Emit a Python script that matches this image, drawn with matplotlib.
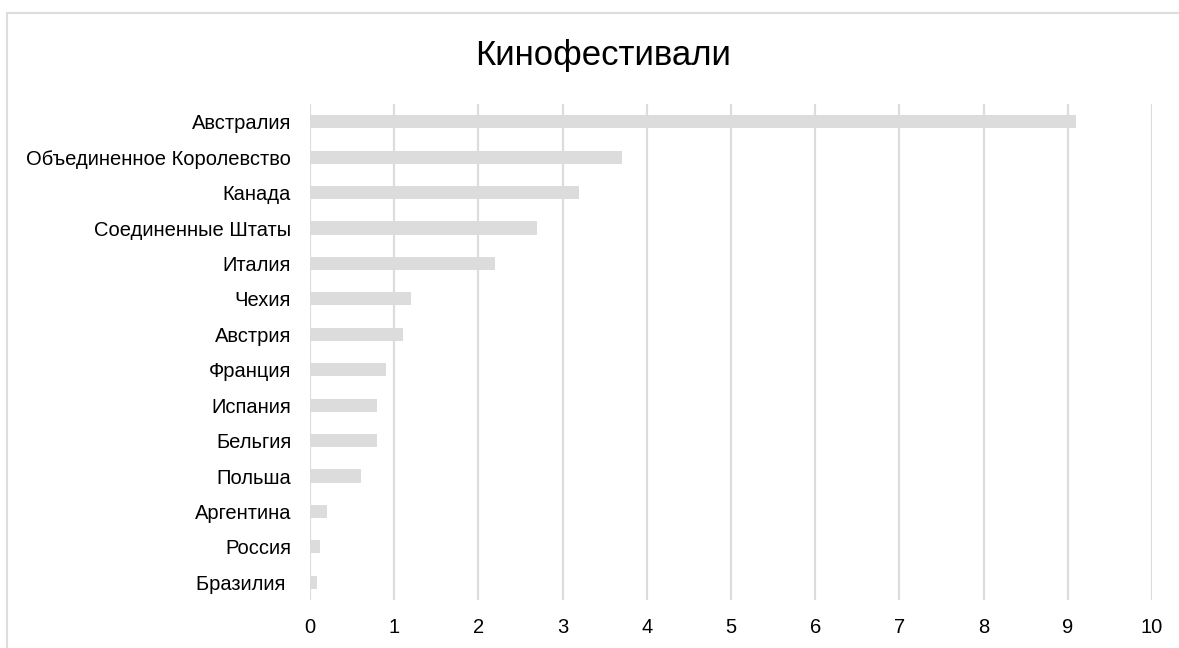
import matplotlib.pyplot as plt
from matplotlib.patches import Rectangle

plt.rcParams['font.family'] = ['Liberation Sans', 'DejaVu Sans']

# data
countries = ["Австралия", "Объединенное Королевство", "Канада", "Соединенные Штаты",
             "Италия", "Чехия", "Австрия", "Франция", "Испания", "Бельгия",
             "Польша", "Аргентина", "Россия", "Бразилия "]
values = [9.1, 3.7, 3.2, 2.7, 2.2, 1.2, 1.1, 0.9, 0.8, 0.8, 0.6, 0.2, 0.12, 0.08]
xticks = [0, 1, 2, 3, 4, 5, 6, 7, 8, 9, 10]

fig = plt.figure(figsize=(11.79, 6.48), dpi=100)
ax = fig.add_axes([310 / 1179, 1 - 600 / 648, 842 / 1179, 496 / 648])

# light frame around the chart (only top and left edges are visible)
fig.patches.append(Rectangle((7 / 1179, -0.1), 2, 1 - 13 / 648 + 0.1,
                             transform=fig.transFigure, fill=False,
                             edgecolor="#dddddd", linewidth=1.5))

ypos = list(range(len(countries)))
ax.barh(ypos, values, height=0.37, color="#dcdcdc", zorder=2)
ax.set_ylim(len(countries) - 0.5, -0.5)
ax.set_xlim(0, 10)
ax.set_xticks(xticks)
ax.set_yticks(ypos)
ax.set_yticklabels(countries)
ax.xaxis.grid(True, color="#dcdcdc", linewidth=1.6, zorder=1)
ax.set_axisbelow(True)
for s in ax.spines.values():
    s.set_visible(False)
ax.tick_params(axis="both", length=0, labelsize=14.5, colors="black")
ax.tick_params(axis="y", pad=13.5)
ax.tick_params(axis="x", pad=13)

fig.text(603 / 1179, 1 - 55 / 648, "Кинофестивали", ha="center", va="center", fontsize=25)

fig.savefig("out.png", dpi=100)
